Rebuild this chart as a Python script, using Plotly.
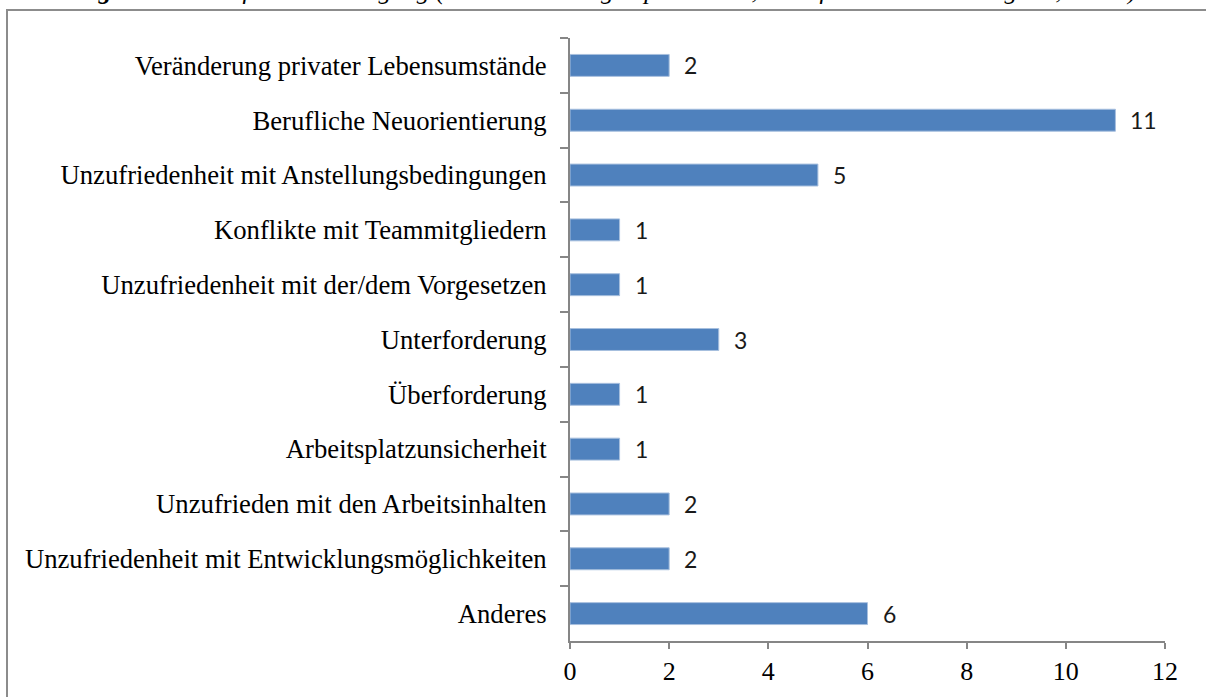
import plotly.graph_objects as go

categories = [
    "Veränderung privater Lebensumstände",
    "Berufliche Neuorientierung",
    "Unzufriedenheit mit Anstellungsbedingungen",
    "Konflikte mit Teammitgliedern",
    "Unzufriedenheit mit der/dem Vorgesetzen",
    "Unterforderung",
    "Überforderung",
    "Arbeitsplatzunsicherheit",
    "Unzufrieden mit den Arbeitsinhalten",
    "Unzufriedenheit mit Entwicklungsmöglichkeiten",
    "Anderes",
]
values = [2, 11, 5, 1, 1, 3, 1, 1, 2, 2, 6]
x_ticks = [0, 2, 4, 6, 8, 10, 12]
caption = ("<b>Abbildung 12:</b> Gründe für die Kündigung (Anzahl Nennungen pro Grund, "
           "Mehrfachantworten möglich, N=15)")

W, H = 1206, 697
L, R, T, B = 570, 41, 38, 56
PW, PH = W - L - R, H - T - B

def px_x(px):
    return (px - L) / PW

def px_y(py):
    return (H - B - py) / PH

AXIS = "#868686"

fig = go.Figure()
fig.add_trace(go.Bar(
    x=values, y=categories, orientation="h",
    marker=dict(color="#4F81BD", line=dict(color="#A7BFDE", width=1)),
    hoverinfo="skip",
))

for c, v in zip(categories, values):
    fig.add_annotation(x=v, y=c, xref="x", yref="y", text=str(v),
                       showarrow=False, xanchor="left", xshift=13,
                       font=dict(family="Lato", size=23, color="#1a1a1a"))

# cropped caption at the very top
fig.add_annotation(x=px_x(-3), y=px_y(7), xref="paper", yref="paper",
                   text="<i>" + caption + "</i>", showarrow=False,
                   xanchor="left", yanchor="bottom",
                   font=dict(family="Liberation Serif", size=25.5, color="#000"))

# outer frame
fig.add_shape(type="rect", xref="paper", yref="paper",
              x0=px_x(7), x1=px_x(1230), y0=px_y(720), y1=px_y(10),
              line=dict(color="#8C8C8C", width=2), fillcolor="rgba(0,0,0,0)",
              layer="below")

fig.update_layout(
    width=W, height=H, autosize=False,
    margin=dict(l=L, r=R, t=T, b=B),
    paper_bgcolor="white", plot_bgcolor="white",
    showlegend=False, bargap=0.6,
    font=dict(family="Liberation Serif", size=27, color="#000"),
)
fig.update_xaxes(range=[0, 12], tickvals=x_ticks, ticktext=[str(t) for t in x_ticks],
                 showgrid=False, zeroline=False, showline=True, linecolor=AXIS,
                 linewidth=2, ticks="outside", ticklen=6, tickwidth=2, tickcolor=AXIS,
                 tickfont=dict(family="Liberation Serif", size=26, color="#000"))
fig.update_yaxes(categoryorder="array", categoryarray=categories, autorange="reversed",
                 showgrid=False, zeroline=False, showline=True, linecolor=AXIS,
                 linewidth=2, ticks="outside", ticklen=8, tickwidth=2, tickcolor=AXIS,
                 tickson="boundaries", ticklabelstandoff=16,
                 tickfont=dict(family="Liberation Serif", size=26.7, color="#000"))

fig.write_html("out.html", config={"displayModeBar": False},
               post_script="document.body.style.margin='0';document.body.style.overflow='hidden';")
